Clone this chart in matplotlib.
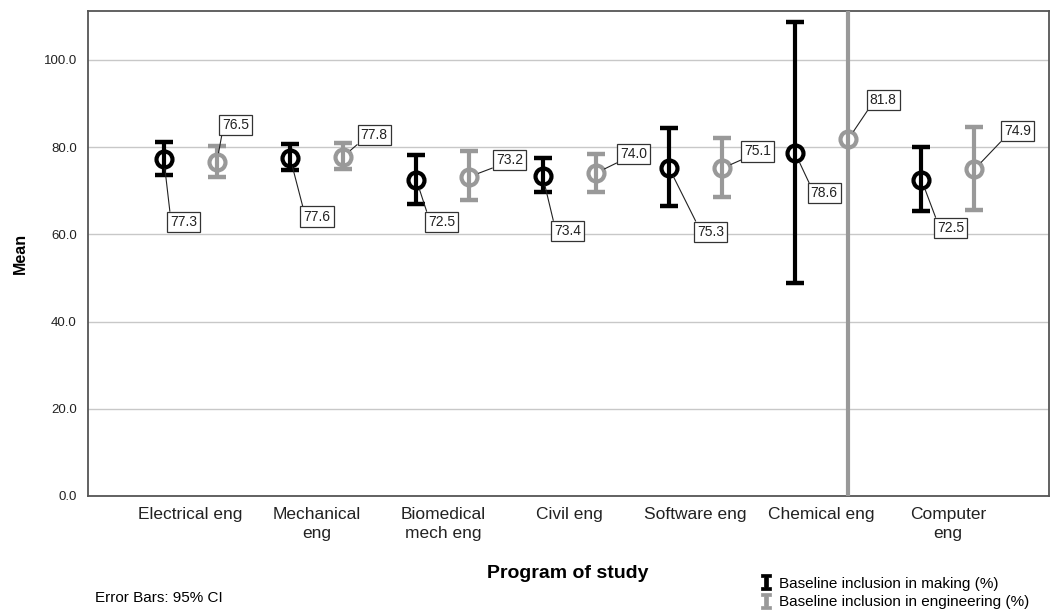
import numpy as np
import matplotlib
matplotlib.use("Agg")
import matplotlib.pyplot as plt
from matplotlib.lines import Line2D

plt.rcParams['font.family'] = ['Liberation Sans', 'DejaVu Sans']

programs = ["Electrical eng", "Mechanical\neng", "Biomedical\nmech eng", "Civil eng",
            "Software eng", "Chemical eng", "Computer\neng"]

# baseline inclusion in making (%)
making_mean = [77.3, 77.6, 72.5, 73.4, 75.3, 78.6, 72.5]
making_lo = [73.6, 74.8, 66.9, 69.6, 66.6, 48.8, 65.4]
making_hi = [81.2, 80.7, 78.2, 77.5, 84.3, 108.6, 80.1]

# baseline inclusion in engineering (%)
eng_mean = [76.5, 77.8, 73.2, 74.0, 75.1, 81.8, 74.9]
eng_lo = [73.1, 74.9, 67.9, 69.8, 68.5, -20.0, 65.6]
eng_hi = [80.3, 80.9, 79.0, 78.4, 82.0, 183.6, 84.5]

# label box offsets in pixels (dx, dy) from each mean marker
making_off = [(20, -63), (27, -59), (25, -42), (25, -55), (42, -64), (29, -40), (29, -48)]
eng_off = [(19, 37), (31, 22), (40, 17), (38, 19), (36, 17), (35, 39), (43, 38)]

BLACK = "#000000"
GRAY = "#999999"

# I-beam glyph used as the legend key
ibeam = [(-0.7, 1), (0.7, 1), (0.7, 0.68), (0.3, 0.68), (0.3, -0.68), (0.7, -0.68),
         (0.7, -1), (-0.7, -1), (-0.7, -0.68), (-0.3, -0.68), (-0.3, 0.68), (-0.7, 0.68),
         (-0.7, 1)]

fig = plt.figure(figsize=(10.5, 6.15), dpi=100)
ax = fig.add_axes([88 / 1050, 1 - 496 / 615, 961 / 1050, 485 / 615])

x = np.arange(len(programs))
shift = 0.21


def draw_series(xs, mean, lo, hi, color, offsets):
    mean = np.array(mean)
    yerr = [mean - np.array(lo), np.array(hi) - mean]
    ax.errorbar(xs, mean, yerr=yerr, fmt='none', ecolor=color, elinewidth=3,
                capsize=6.5, capthick=3.2, zorder=3)
    ax.plot(xs, mean, 'o', ms=11.5, mfc='none', mec=color, mew=3, ls='none', zorder=4)
    for xi, m, (dx, dy) in zip(xs, mean, offsets):
        rp = (0, 1) if dy < 0 else (0, 0)
        ax.annotate(f"{m:.1f}", xy=(xi, m), xytext=(dx, dy), textcoords='offset pixels',
                    ha='center', va='center', fontsize=10, color='#222222', zorder=6,
                    bbox=dict(boxstyle='square,pad=0.22', fc='white', ec='#333333', lw=0.9),
                    arrowprops=dict(arrowstyle='-', color='#222222', lw=0.8,
                                    shrinkA=0, shrinkB=7, relpos=rp))


draw_series(x - shift, making_mean, making_lo, making_hi, BLACK, making_off)
draw_series(x + shift, eng_mean, eng_lo, eng_hi, GRAY, eng_off)

ax.set_xlim(-0.81, 6.8)
ax.set_ylim(0, 111.2)
ax.set_yticks([0, 20, 40, 60, 80, 100])
ax.set_yticklabels([f"{v:.1f}" for v in [0, 20, 40, 60, 80, 100]], fontsize=9.5, color='#222222')
ax.set_xticks(x)
ax.set_xticklabels(programs, fontsize=12.5, color='#222222', linespacing=1.35)
ax.tick_params(axis='both', length=0)
ax.tick_params(axis='x', pad=8)
ax.tick_params(axis='y', pad=8)
ax.yaxis.grid(True, color='#c8c8c8', lw=1)
ax.set_axisbelow(True)
for s in ax.spines.values():
    s.set_color('#555555')
    s.set_linewidth(1.3)

ax.set_ylabel("Mean", fontsize=11.5, fontweight='bold', labelpad=11)
fig.text(568 / 1050, 1 - 573 / 615, "Program of study", fontsize=14, fontweight='bold',
         ha='center', va='center')
fig.text(95 / 1050, 1 - 598 / 615, "Error Bars: 95% CI", fontsize=11, ha='left', va='center')

handles = [Line2D([], [], ls='none', marker=ibeam, ms=11, color=BLACK, mfc=BLACK, mec=BLACK, mew=0.5),
           Line2D([], [], ls='none', marker=ibeam, ms=11, color=GRAY, mfc=GRAY, mec=GRAY, mew=0.5)]
fig.legend(handles, ["Baseline inclusion in making (%)", "Baseline inclusion in engineering (%)"],
           loc='center left', bbox_to_anchor=(759 / 1050, 1 - 593 / 615), frameon=False,
           fontsize=11, handlelength=0.9, handletextpad=0.4, labelspacing=0.3,
           borderpad=0, borderaxespad=0)

fig.savefig("out.png", dpi=100)
